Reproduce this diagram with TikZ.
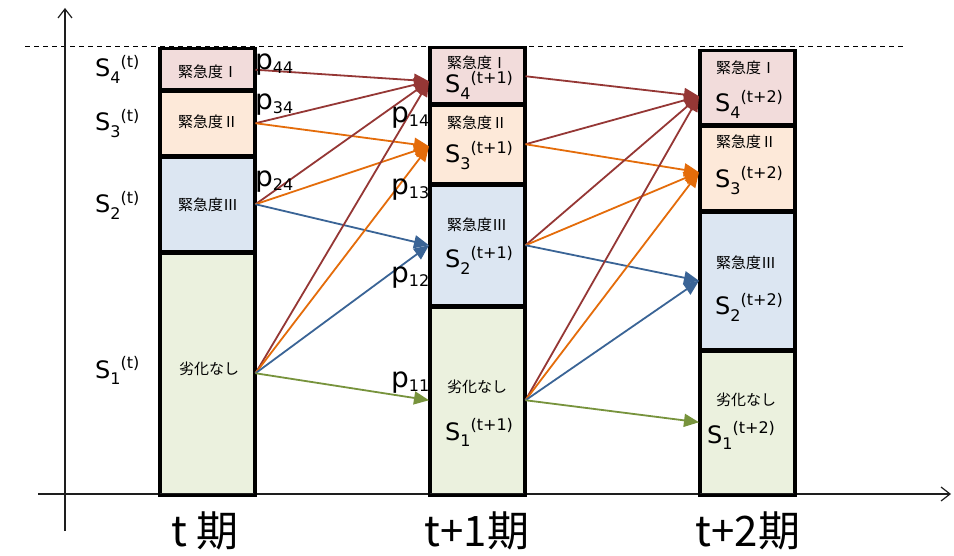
\documentclass[tikz,border=0pt]{standalone}
\usepackage{fontspec}
\setmainfont{DejaVu Sans}
\newfontfamily\jp{Noto Sans CJK JP}
\usetikzlibrary{arrows.meta}
\definecolor{cmar}{HTML}{953735}
\definecolor{cora}{HTML}{E46C0A}
\definecolor{cblu}{HTML}{3A6496}
\definecolor{cgrn}{HTML}{77933C}
\definecolor{fa}{HTML}{F2DCDB}
\definecolor{fb}{HTML}{FDE9D9}
\definecolor{fc}{HTML}{DCE6F2}
\definecolor{fd}{HTML}{EBF1DE}
\newcommand\Slab[4]{{\fontsize{#1}{#1}\selectfont S\fontsize{#2}{#2}\selectfont\raisebox{-0.38em}{#3}\raisebox{0.58em}{(#4)}}}
\newcommand\plab[1]{{\fontsize{28}{28}\selectfont p\fontsize{16}{16}\selectfont\raisebox{-0.25em}{#1}}}
\tikzset{
  stbox/.style={draw=black, line width=2.5pt, minimum width=94pt, anchor=north west, inner sep=0pt},
  arr/.style={line width=1.8pt, -{Triangle[length=15pt,width=13pt]}},
  axis/.style={line width=1.5pt, draw={rgb,255:red,30;green,30;blue,30}, -{Straight Barb[length=9pt,width=14pt,line width=1.2pt]}},
  jtxt/.style={font=\jp\fontsize{15}{15}\selectfont, inner sep=0pt},
  slab/.style={anchor=base west, inner sep=0pt},
  plab/.style={anchor=base west, inner sep=0pt},
  period/.style={font=\jp\fontsize{42}{42}\selectfont, anchor=base, inner sep=0pt}
}
\begin{document}
\begin{tikzpicture}[x=1pt,y=-1pt]
\useasboundingbox[fill=white] (0,0) rectangle (954,556);
% dashed top line
\coordinate (dl) at (25,47);
\coordinate (dr) at (905,47);
\draw[dashed, line width=1pt, dash pattern=on 5pt off 4pt] (dl) -- (dr);
% column t
\node[stbox, fill=fa, minimum height=41pt] (a4) at (159,48) {};
\node[stbox, fill=fb, minimum height=66pt] (a3) at (159,89) {};
\node[stbox, fill=fc, minimum height=96pt] (a2) at (159,155) {};
\node[stbox, fill=fd, minimum height=242pt] (a1) at (159,251) {};
% column t+1
\node[stbox, fill=fa, minimum height=56pt] (b4) at (429,47) {};
\node[stbox, fill=fb, minimum height=80pt] (b3) at (429,103) {};
\node[stbox, fill=fc, minimum height=122pt] (b2) at (429,183) {};
\node[stbox, fill=fd, minimum height=188pt] (b1) at (429,305) {};
% column t+2
\node[stbox, fill=fa, minimum height=74pt] (c4) at (699,50) {};
\node[stbox, fill=fb, minimum height=86pt] (c3) at (699,124) {};
\node[stbox, fill=fc, minimum height=139pt] (c2) at (699,210) {};
\node[stbox, fill=fd, minimum height=144pt] (c1) at (699,349) {};
% axes
\coordinate (yb) at (65,531);
\coordinate (yt) at (65,8);
\coordinate (xl) at (38,494);
\coordinate (xr) at (951,494);
\draw[axis] (yb) -- (yt);
\draw[axis] (xl) -- (xr);
\foreach \n in {a4,a3,a2,a1,b4,b3,b2,b1,c4,c3,c2,c1}{\draw[line width=2.5pt] (\n.north west) rectangle (\n.south east);}
% arrow targets
\coordinate (tb4) at ([yshift=-5pt]b4.west);
\coordinate (tb3) at ([yshift=-2pt]b3.west);
\coordinate (tb2) at (b2.west);
\coordinate (tb1) at (b1.west);
\coordinate (tc4) at ([yshift=-8pt]c4.west);
\coordinate (tc3) at ([yshift=-4pt]c3.west);
\coordinate (tc2) at (c2.west);
\coordinate (tc1) at (c1.west);
% arrows t -> t+1
\draw[arr, cmar] (a4.east) -- (tb4);
\draw[arr, cmar] (a3.east) -- (tb4);
\draw[arr, cora] (a3.east) -- (tb3);
\draw[arr, cmar] (a2.east) -- (tb4);
\draw[arr, cora] (a2.east) -- (tb3);
\draw[arr, cblu] (a2.east) -- (tb2);
\draw[arr, cmar] (a1.east) -- (tb4);
\draw[arr, cora] (a1.east) -- (tb3);
\draw[arr, cblu] (a1.east) -- (tb2);
\draw[arr, cgrn] (a1.east) -- (tb1);
% arrows t+1 -> t+2
\draw[arr, cmar] (b4.east) -- (tc4);
\draw[arr, cmar] (b3.east) -- (tc4);
\draw[arr, cora] (b3.east) -- (tc3);
\draw[arr, cmar] (b2.east) -- (tc4);
\draw[arr, cora] (b2.east) -- (tc3);
\draw[arr, cblu] (b2.east) -- (tc2);
\draw[arr, cmar] (b1.east) -- (tc4);
\draw[arr, cora] (b1.east) -- (tc3);
\draw[arr, cblu] (b1.east) -- (tc2);
\draw[arr, cgrn] (b1.east) -- (tc1);
% box texts
\node[jtxt] (ja4) at (208,72) {緊急度Ⅰ};
\node[jtxt] (ja3) at (208,122) {緊急度Ⅱ};
\node[jtxt] (ja2) at (208,205) {緊急度Ⅲ};
\node[jtxt] (ja1) at (209,369) {劣化なし};
\node[jtxt] (jb4) at (477,63) {緊急度Ⅰ};
\node[jtxt] (jb3) at (477,123) {緊急度Ⅱ};
\node[jtxt] (jb2) at (477,225) {緊急度Ⅲ};
\node[jtxt] (jb1) at (477,387) {劣化なし};
\node[jtxt] (jc4) at (746,68) {緊急度Ⅰ};
\node[jtxt] (jc3) at (746,142) {緊急度Ⅱ};
\node[jtxt] (jc2) at (746,263) {緊急度Ⅲ};
\node[jtxt] (jc1) at (746,400) {劣化なし};
% state labels
\node[slab] (sa4) at (95,77) {\Slab{24}{16}{4}{t}};
\node[slab] (sa3) at (95,131) {\Slab{24}{16}{3}{t}};
\node[slab] (sa2) at (95,213) {\Slab{24}{16}{2}{t}};
\node[slab] (sa1) at (95,378) {\Slab{24}{16}{1}{t}};
\node[slab] (sb4) at (445,93) {\Slab{24}{16}{4}{t+1}};
\node[slab] (sb3) at (445,163) {\Slab{24}{16}{3}{t+1}};
\node[slab] (sb2) at (445,268) {\Slab{24}{16}{2}{t+1}};
\node[slab] (sb1) at (445,440) {\Slab{24}{16}{1}{t+1}};
\node[slab] (sc4) at (715,112) {\Slab{24}{16}{4}{t+2}};
\node[slab] (sc3) at (715,188) {\Slab{24}{16}{3}{t+2}};
\node[slab] (sc2) at (715,315) {\Slab{24}{16}{2}{t+2}};
\node[slab] (sc1) at (707,443) {\Slab{24}{16}{1}{t+2}};
% probabilities
\node[plab] (p44) at (255,70) {\plab{44}};
\node[plab] (p34) at (255,110) {\plab{34}};
\node[plab] (p24) at (255,187) {\plab{24}};
\node[plab] (p14) at (391,123) {\plab{14}};
\node[plab] (p13) at (391,195) {\plab{13}};
\node[plab] (p12) at (391,283) {\plab{12}};
\node[plab] (p11) at (391,387) {\plab{11}};
% periods
\node[period] (pt0) at (205,546) {t 期};
\node[period] (pt1) at (477,546) {t+1期};
\node[period] (pt2) at (748,546) {t+2期};
\end{tikzpicture}
\end{document}
